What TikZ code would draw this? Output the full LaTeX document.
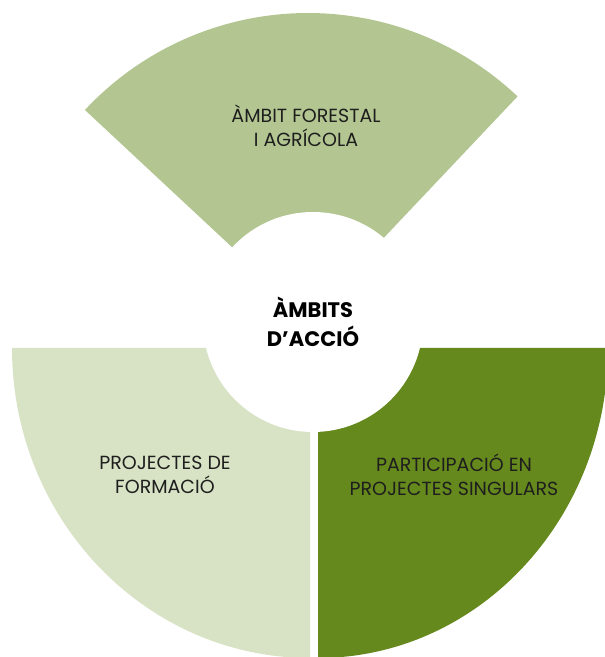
\documentclass[tikz,border=0pt]{standalone}
\usepackage{fontspec}
\setmainfont{Poppins}
\usetikzlibrary{positioning}
\definecolor{topgreen}{RGB}{179,198,145}
\definecolor{palegreen}{RGB}{216,227,197}
\definecolor{darkgreen}{RGB}{101,137,29}
\definecolor{textgrey}{RGB}{30,30,30}
\tikzset{
    % Ring segments
    segment/.style={
        draw=none,
    },
    % Centre circle
    hub/.style={
        circle,
        fill=white,
        minimum size=220pt,
        inner sep=0pt,
        align=center,
        font=\bfseries\fontsize{21}{29}\selectfont,
    },
    % Segment texts
    seglabel/.style={
        align=center,
        text=textgrey,
        font=\fontsize{19}{24}\selectfont,
    },
}

\begin{document}
\begin{tikzpicture}[x=1pt,y=1pt]
\useasboundingbox (0,0) rectangle (605,657);
% Define apex points
\coordinate (apex) at (308,339);
\coordinate (cornerL) at (310,309);
\coordinate (cornerR) at (318,309);
    % Top segment
    \fill[segment, topgreen] (apex) -- ++(46.6:305) arc[start angle=46.6, end angle=137, radius=305] -- cycle;
    % Bottom left segment
    \fill[segment, palegreen] (cornerL) -- ++(-298,0)
        arc[start angle=180, end angle=270, x radius=298, y radius=310] -- cycle;
    % Bottom right segment
    \fill[segment, darkgreen] (cornerR) -- ++(0,-310)
        arc[start angle=270, end angle=360, x radius=290, y radius=310] -- cycle;
    % Centre
    \node[hub] (hub) at (313,335) {ÀMBITS\\D’ACCIÓ};
    % Labels
    \node[seglabel] (forestal) at (306,531) {ÀMBIT FORESTAL\\I AGRÍCOLA};
    \node[seglabel] (formacio) at (165,182) {PROJECTES DE\\FORMACIÓ};
    \node[seglabel] (singulars) at (454,182) {PARTICIPACIÓ EN\\PROJECTES SINGULARS};
\end{tikzpicture}
\end{document}
